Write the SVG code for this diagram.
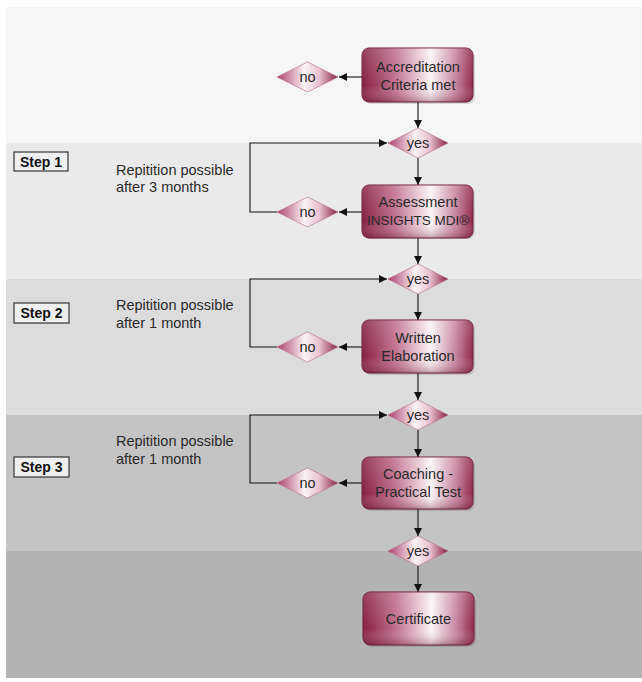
<svg xmlns="http://www.w3.org/2000/svg" width="642" height="682" viewBox="0 0 642 682">
<defs>
<linearGradient id="gBox" x1="0" y1="0" x2="1" y2="0">
<stop offset="0" stop-color="#861f42"/>
<stop offset="0.3" stop-color="#c06f8d"/>
<stop offset="0.62" stop-color="#fbf4f7"/>
<stop offset="0.85" stop-color="#c4809a"/>
<stop offset="1" stop-color="#8f2649"/>
</linearGradient>
<linearGradient id="gBoxV" x1="0" y1="0" x2="0" y2="1">
<stop offset="0" stop-color="#ffffff" stop-opacity="0.15"/>
<stop offset="0.7" stop-color="#ffffff" stop-opacity="0"/>
<stop offset="1" stop-color="#5a0f28" stop-opacity="0.35"/>
</linearGradient>
<linearGradient id="gDia" x1="0" y1="0" x2="1" y2="0">
<stop offset="0" stop-color="#a8406a"/>
<stop offset="0.45" stop-color="#fbf3f6"/>
<stop offset="0.7" stop-color="#e6c0ce"/>
<stop offset="1" stop-color="#861f42"/>
</linearGradient>
<marker id="ah" viewBox="0 0 10 10" refX="10" refY="5" markerWidth="9" markerHeight="8" markerUnits="userSpaceOnUse" orient="auto">
<path d="M0,0 L10,5 L0,10 z" fill="#111"/>
</marker>
</defs>
<style>
.box{fill:url(#gBox);stroke:#6e1a36;stroke-width:1}
.boxv{fill:url(#gBoxV);stroke:none}
.shadow{fill:#000;opacity:0.12}
.dia{fill:url(#gDia);stroke:#b56a86;stroke-width:0.6}
.t{font-family:"Liberation Sans",Arial,sans-serif;font-size:14.5px;fill:#2a2a2a;text-anchor:middle}
.note{font-family:"Liberation Sans",Arial,sans-serif;font-size:14.5px;fill:#2a2a2a}
.step{font-family:"Liberation Sans",Arial,sans-serif;font-size:14px;font-weight:bold;fill:#111;text-anchor:middle}
.steprect{fill:#efefef;stroke:#333;stroke-width:1.2}
.c{stroke:#111;stroke-width:1.1;fill:none;marker-end:url(#ah)}
</style>

<g id="background">
<rect x="6" y="7" width="636" height="136" fill="#f6f6f6"/>
<rect x="6" y="143" width="636" height="136" fill="#eaeaea"/>
<rect x="6" y="279" width="636" height="136" fill="#dcdcdc"/>
<rect x="6" y="415" width="636" height="136" fill="#c4c4c4"/>
<rect x="6" y="551" width="636" height="127" fill="#b3b3b3"/>
</g>

<g id="step1">
<rect class="steprect" x="14" y="152" width="54" height="19"/>
<text class="step" x="41" y="167">Step 1</text>
<text class="note" x="116" y="175">Repitition possible</text>
<text class="note" x="116" y="192">after 3 months</text>
</g>
<g id="step2">
<rect class="steprect" x="14" y="303" width="55" height="20"/>
<text class="step" x="41.5" y="318">Step 2</text>
<text class="note" x="116" y="310">Repitition possible</text>
<text class="note" x="116" y="328">after 1 month</text>
</g>
<g id="step3">
<rect class="steprect" x="14" y="457" width="55" height="20"/>
<text class="step" x="41.5" y="472">Step 3</text>
<text class="note" x="116" y="446">Repitition possible</text>
<text class="note" x="116" y="464">after 1 month</text>
</g>

<g id="connectors">
<line class="c" x1="362" y1="77" x2="339" y2="77"/>
<line class="c" x1="418" y1="102" x2="418" y2="128"/>
<line class="c" x1="418" y1="158" x2="418" y2="185"/>
<polyline class="c" points="277,212 250,212 250,143 387,143"/>
<line class="c" x1="362" y1="212" x2="339" y2="212"/>
<line class="c" x1="418" y1="238" x2="418" y2="264"/>
<line class="c" x1="418" y1="294" x2="418" y2="320"/>
<polyline class="c" points="277,347 250,347 250,279 387,279"/>
<line class="c" x1="362" y1="347" x2="339" y2="347"/>
<line class="c" x1="418" y1="373" x2="418" y2="400"/>
<line class="c" x1="418" y1="430" x2="418" y2="457"/>
<polyline class="c" points="277,483 250,483 250,415 387,415"/>
<line class="c" x1="362" y1="483" x2="339" y2="483"/>
<line class="c" x1="418" y1="509" x2="418" y2="536"/>
<line class="c" x1="418" y1="566" x2="418" y2="592"/>
</g>

<g id="box-accreditation">
<rect class="shadow" x="364" y="50" width="111" height="54" rx="7"/>
<rect class="box" x="362" y="48" width="111" height="54" rx="7"/>
<rect class="boxv" x="362" y="48" width="111" height="54" rx="7"/>
<text class="t" x="418" y="72">Accreditation</text>
<text class="t" x="418" y="90">Criteria met</text>
</g>
<g id="no-0">
<polygon class="dia" points="277,77 307.5,62 338,77 307.5,92"/>
<text class="t" x="307.5" y="82">no</text>
</g>
<g id="yes-0">
<polygon class="dia" points="388,143 418,128 448,143 418,158"/>
<text class="t" x="418" y="148">yes</text>
</g>

<g id="box-assessment">
<rect class="shadow" x="364" y="187" width="111" height="52" rx="7"/>
<rect class="box" x="362" y="185" width="111" height="53" rx="7"/>
<rect class="boxv" x="362" y="185" width="111" height="53" rx="7"/>
<text class="t" x="418" y="207">Assessment</text>
<text class="t" x="418" y="225" style="font-size:13.5px">INSIGHTS MDI®</text>
</g>
<g id="no-1">
<polygon class="dia" points="277,212 307.5,197 338,212 307.5,227"/>
<text class="t" x="307.5" y="217">no</text>
</g>
<g id="yes-1">
<polygon class="dia" points="388,279 418,264 448,279 418,294"/>
<text class="t" x="418" y="284">yes</text>
</g>

<g id="box-written">
<rect class="shadow" x="364" y="322" width="111" height="53" rx="7"/>
<rect class="box" x="362" y="320" width="111" height="53" rx="7"/>
<rect class="boxv" x="362" y="320" width="111" height="53" rx="7"/>
<text class="t" x="418" y="343">Written</text>
<text class="t" x="418" y="361">Elaboration</text>
</g>
<g id="no-2">
<polygon class="dia" points="277,347 307.5,332 338,347 307.5,362"/>
<text class="t" x="307.5" y="352">no</text>
</g>
<g id="yes-2">
<polygon class="dia" points="388,415 418,400 448,415 418,430"/>
<text class="t" x="418" y="420">yes</text>
</g>

<g id="box-coaching">
<rect class="shadow" x="364" y="459" width="111" height="52" rx="7"/>
<rect class="box" x="362" y="457" width="111" height="52" rx="7"/>
<rect class="boxv" x="362" y="457" width="111" height="52" rx="7"/>
<text class="t" x="418" y="479">Coaching -</text>
<text class="t" x="418" y="497">Practical Test</text>
</g>
<g id="no-3">
<polygon class="dia" points="277,483 307.5,468 338,483 307.5,498"/>
<text class="t" x="307.5" y="488">no</text>
</g>
<g id="yes-3">
<polygon class="dia" points="388,551 418,536 448,551 418,566"/>
<text class="t" x="418" y="556">yes</text>
</g>

<g id="box-certificate">
<rect class="shadow" x="365" y="594" width="111" height="53" rx="7"/>
<rect class="box" x="363" y="592" width="111" height="53" rx="7"/>
<rect class="boxv" x="363" y="592" width="111" height="53" rx="7"/>
<text class="t" x="418.5" y="624">Certificate</text>
</g>
</svg>
